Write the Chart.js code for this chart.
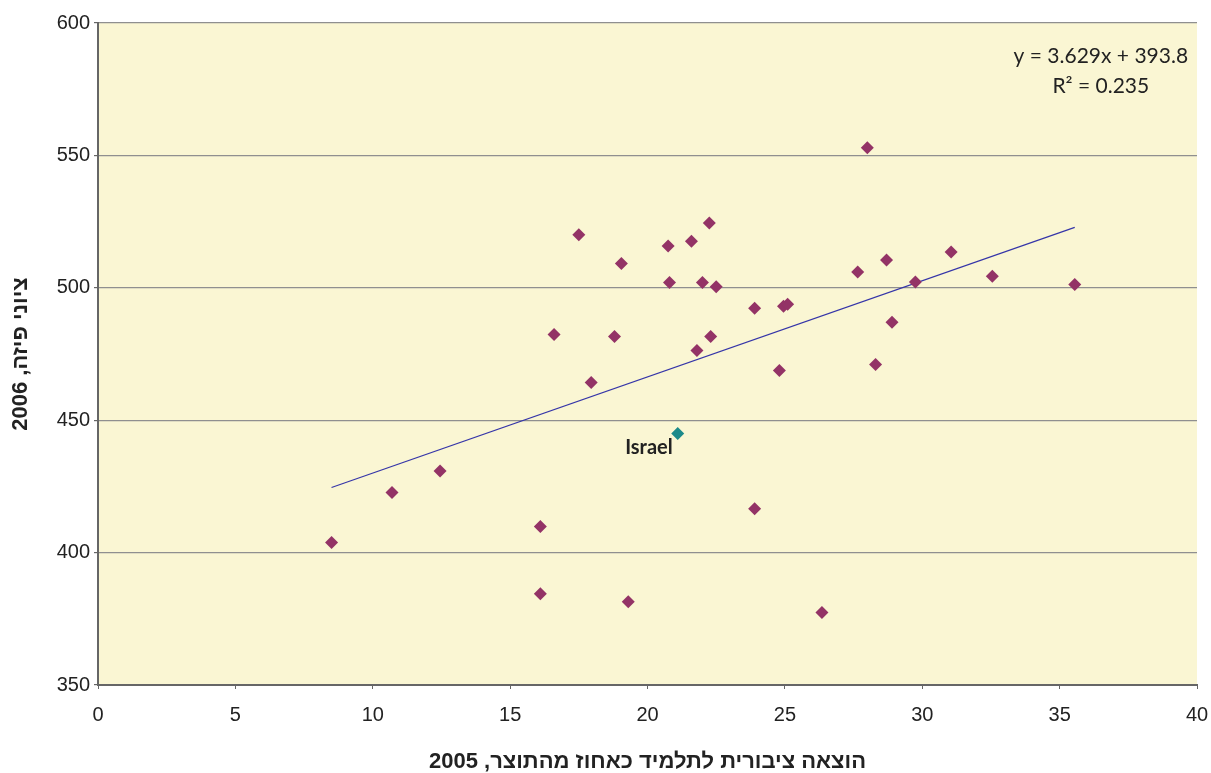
<!DOCTYPE html>
<html>
<head>
<meta charset="utf-8">
<script src="https://cdn.jsdelivr.net/npm/chart.js@4/dist/chart.umd.min.js"></script>
<style>
  html, body { margin: 0; padding: 0; background: #fff; }
  #chart { display: block; }
</style>
</head>
<body>
<canvas id="chart" width="1211" height="773"></canvas>
<script>
// public spending per student (% of GDP per capita), 2005  vs  PISA 2006 score
const spending = [8.5, 10.7, 12.45, 16.1, 16.1, 16.6, 17.5, 17.95, 18.8, 19.05, 19.3, 20.75, 20.8,
  21.6, 21.8, 22.0, 22.25, 22.3, 22.5, 23.9, 23.9, 24.8, 24.95, 25.1, 26.35, 27.65, 28.0,
  28.3, 28.7, 28.9, 29.75, 31.05, 32.55, 35.55];
const pisa = [403.8, 422.7, 430.8, 409.9, 384.5, 482.4, 520.0, 464.2, 481.6, 509.2, 381.4, 515.8, 502.0,
  517.6, 476.3, 502.0, 524.5, 481.6, 500.4, 492.3, 416.6, 468.8, 493.0, 493.8, 377.4, 506.0, 552.9,
  471.0, 510.5, 487.0, 502.2, 513.5, 504.4, 501.2];

const israelX = 21.1;
const israelY = 445.0;

// trend line end points (y = 3.629x + 393.8, R² = 0.235)
const trendX = [8.5, 35.55];
const trendY = [424.6, 522.8];
const trendText = ['y = 3.629x + 393.8', 'R² = 0.235'];

const xTicks = [0, 5, 10, 15, 20, 25, 30, 35, 40];
const yTicks = [350, 400, 450, 500, 550, 600];

const xTitle = 'הוצאה ציבורית לתלמיד כאחוז מהתוצר, 2005';
const yTitle = 'ציוני פיזה, 2006';

const rtl = s => '\u202B' + s + '\u202C';

const plotBg = {
  id: 'plotBg',
  beforeDraw(chart) {
    const { ctx, chartArea: a } = chart;
    ctx.save();
    ctx.fillStyle = '#FAF6D3';
    ctx.fillRect(a.left, a.top, a.right - a.left, a.bottom - a.top);
    ctx.restore();
  }
};

const notes = {
  id: 'notes',
  afterDatasetsDraw(chart) {
    const { ctx, scales: { x, y } } = chart;
    ctx.save();
    ctx.fillStyle = '#222';
    ctx.textBaseline = 'middle';
    // regression equation
    ctx.font = '21px Lato, "Open Sans", sans-serif';
    ctx.textAlign = 'center';
    ctx.fillText(trendText[0], x.getPixelForValue(36.5), y.getPixelForValue(587.5));
    ctx.fillText(trendText[1], x.getPixelForValue(36.5), y.getPixelForValue(576.2));
    // Israel label
    ctx.font = 'bold 20px Lato, "Open Sans", sans-serif';
    ctx.textAlign = 'right';
    ctx.fillText('Israel', x.getPixelForValue(israelX) - 5, y.getPixelForValue(israelY) + 14);
    ctx.restore();
  }
};

new Chart(document.getElementById('chart'), {
  type: 'scatter',
  data: {
    datasets: [
      {
        label: 'OECD',
        data: spending.map((v, i) => ({ x: v, y: pisa[i] })),
        pointStyle: 'rectRot',
        pointRadius: 6.5,
        backgroundColor: '#933366',
        borderColor: '#933366',
        borderWidth: 0,
        order: 1
      },
      {
        label: 'Israel',
        data: [{ x: israelX, y: israelY }],
        pointStyle: 'rectRot',
        pointRadius: 6.5,
        backgroundColor: '#1C8A8A',
        borderColor: '#1C8A8A',
        borderWidth: 0,
        order: 1
      },
      {
        label: 'trend',
        type: 'line',
        data: trendX.map((v, i) => ({ x: v, y: trendY[i] })),
        borderColor: '#3535A8',
        borderWidth: 1.2,
        pointRadius: 0,
        fill: false,
        order: 2
      }
    ]
  },
  options: {
    responsive: false,
    animation: false,
    layout: { padding: { top: 23, right: 14, left: 0, bottom: 0 } },
    plugins: {
      legend: { display: false },
      tooltip: { enabled: false }
    },
    scales: {
      x: {
        type: 'linear',
        min: 0,
        max: 40,
        afterBuildTicks: s => { s.ticks = xTicks.map(v => ({ value: v })); },
        afterFit: s => { s.height = 88; s.paddingLeft = 0; s.paddingRight = 0; },
        ticks: {
          color: '#222',
          padding: 14,
          maxRotation: 0,
          font: { family: '"Liberation Sans", Arial, sans-serif', size: 20 }
        },
        grid: { drawOnChartArea: false, tickLength: 4, color: '#666' },
        border: { color: '#666', width: 2 },
        title: {
          display: true,
          text: rtl(xTitle),
          color: '#222',
          padding: { top: 4, bottom: 0 },
          font: { family: '"Liberation Sans", "DejaVu Sans", sans-serif', size: 22, weight: 'bold', lineHeight: 1 }
        }
      },
      y: {
        min: 350,
        max: 600,
        afterBuildTicks: s => { s.ticks = yTicks.map(v => ({ value: v })); },
        afterFit: s => { s.width = 98; s.paddingTop = 0; s.paddingBottom = 0; },
        ticks: {
          color: '#222',
          padding: 4,
          font: { family: '"Liberation Sans", Arial, sans-serif', size: 20 }
        },
        grid: { color: '#8f8f8f', lineWidth: 1.2, tickLength: 4, tickColor: '#666' },
        border: { color: '#666', width: 2 },
        title: {
          display: true,
          text: rtl(yTitle),
          color: '#222',
          padding: { top: 8, bottom: 0 },
          font: { family: '"Liberation Sans", "DejaVu Sans", sans-serif', size: 22, weight: 'bold' }
        }
      }
    }
  },
  plugins: [plotBg, notes]
});
</script>
</body>
</html>
